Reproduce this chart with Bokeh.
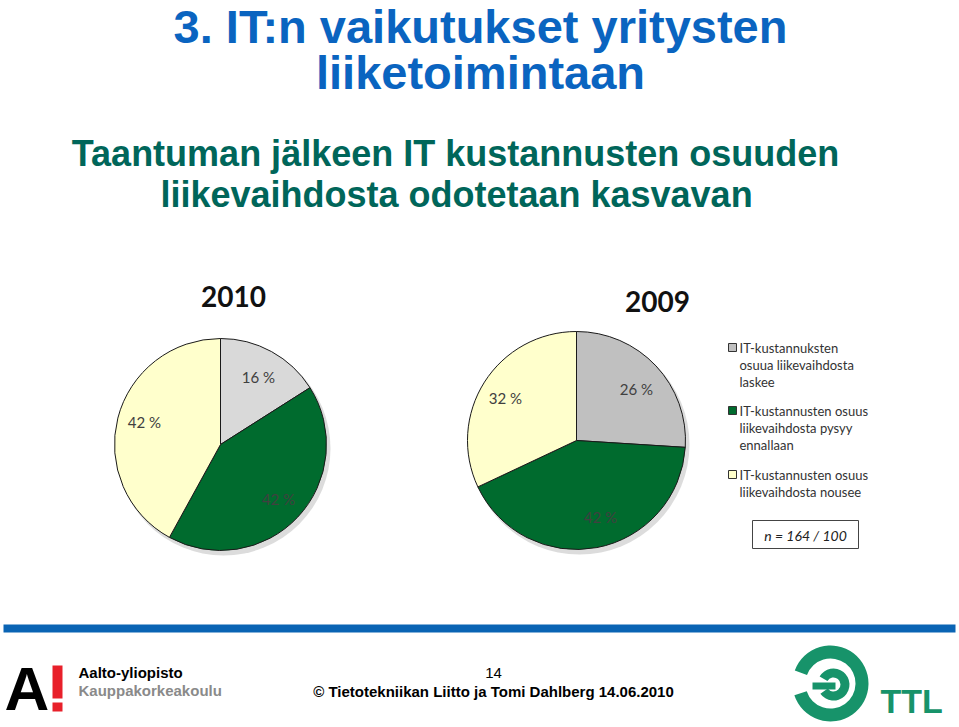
from bokeh.plotting import figure
from bokeh.models import Range1d, ColumnDataSource
from bokeh.core.properties import value
from bokeh.embed import file_html
from bokeh.resources import INLINE
import math

# ---- data ----
categories = ["IT-kustannuksten osuua liikevaihdosta laskee",
              "IT-kustannusten osuus liikevaihdosta pysyy ennallaan",
              "IT-kustannusten osuus liikevaihdosta nousee"]
years = ["2010", "2009"]
values_2010 = [16, 42, 42]
values_2009 = [26, 42, 32]
colors_2010 = ["#d9d9d9", "#006b2e", "#ffffcc"]
colors_2009 = ["#c0c0c0", "#006b2e", "#ffffcc"]
legend_lines = [["IT-kustannuksten", "osuua liikevaihdosta", "laskee"],
                ["IT-kustannusten osuus", "liikevaihdosta pysyy", "ennallaan"],
                ["IT-kustannusten osuus", "liikevaihdosta nousee"]]
sample_note = "n = 164 / 100"

W, H = 959, 727
def Y(py):
    return H - py

p = figure(width=W, height=H, x_range=Range1d(0, W), y_range=Range1d(0, H),
           output_backend="svg", toolbar_location=None, min_border=0)
p.axis.visible = False
p.grid.visible = False
p.outline_line_color = None
p.background_fill_color = "white"
p.border_fill_color = "white"

SANS = "Liberation Sans"
CAL = "Lato"

# ---- titles ----
p.text(x=[480], y=[Y(26)], text=["3. IT:n vaikutukset yritysten"], text_font=value(SANS),
       text_font_style="bold", text_font_size="47px", text_color="#0a64c0",
       text_align="center", text_baseline="middle")
p.text(x=[480], y=[Y(72)], text=["liiketoimintaan"], text_font=value(SANS),
       text_font_style="bold", text_font_size="47px", text_color="#0a64c0",
       text_align="center", text_baseline="middle")
p.text(x=[455], y=[Y(153)], text=["Taantuman jälkeen IT kustannusten osuuden"], text_font=value(SANS),
       text_font_style="bold", text_font_size="36px", text_color="#00665a",
       text_align="center", text_baseline="middle")
p.text(x=[456], y=[Y(194)], text=["liikevaihdosta odotetaan kasvavan"], text_font=value(SANS),
       text_font_style="bold", text_font_size="36px", text_color="#00665a",
       text_align="center", text_baseline="middle")

# ---- pies ----
def pie(cx, cy, r, vals, cols, label_pos, year, year_pos):
    total = float(sum(vals))
    starts, ends = [], []
    c = 0.0
    for v in vals:
        starts.append(math.pi / 2 - 2 * math.pi * c / total)
        c += v
        ends.append(math.pi / 2 - 2 * math.pi * c / total)
    # shadow
    p.circle(x=[cx + 3], y=[Y(cy) - 4], radius=r + 1, fill_color="#9a9a9a",
             fill_alpha=0.35, line_color=None)
    src = ColumnDataSource(dict(x=[cx] * len(vals), y=[Y(cy)] * len(vals),
                                s=starts, e=ends, c=cols))
    p.wedge(x="x", y="y", radius=r, start_angle="s", end_angle="e", direction="clock",
            fill_color="c", line_color="#1a1a1a", line_width=1, source=src)
    for v, (lx, ly) in zip(vals, label_pos):
        p.text(x=[lx], y=[Y(ly)], text=[f"{v} %"], text_font=value(CAL),
               text_font_size="15px", text_color="#404040",
               text_align="center", text_baseline="middle")
    p.text(x=[year_pos[0]], y=[Y(year_pos[1])], text=[year], text_font=value(CAL),
           text_font_style="bold", text_font_size="28px", text_color="#111111",
           text_align="center", text_baseline="middle")

pie(220, 444, 106, values_2010, colors_2010,
    [(258, 376), (278, 498), (144, 421)], years[0], (233, 296))
pie(576, 440, 109, values_2009, colors_2009,
    [(636, 388), (600, 516), (505, 397)], years[1], (657, 301))

# ---- legend ----
leg_y = [347, 410, 474]
for i, lines in enumerate(legend_lines):
    p.rect(x=[732], y=[Y(leg_y[i])], width=8, height=8, fill_color=colors_2009[i],
           line_color="#333333", line_width=1)
    for j, t in enumerate(lines):
        p.text(x=[739], y=[Y(leg_y[i] + j * 17.3)], text=[t], text_font=value(CAL),
               text_font_size="13px", text_color="#333333",
               text_align="left", text_baseline="middle")
p.quad(left=[752], right=[858], top=[Y(520)], bottom=[Y(548)], fill_color="white",
       line_color="#444444", line_width=1)
p.text(x=[805], y=[Y(535)], text=[sample_note], text_font=value(CAL),
       text_font_style="italic", text_font_size="14px", text_color="#222222",
       text_align="center", text_baseline="middle")

# ---- footer ----
p.quad(left=[3], right=[955], top=[Y(624)], bottom=[Y(632)], fill_color="#0a64b4", line_color=None)
p.text(x=[4], y=[Y(688)], text=["A"], text_font=value(SANS), text_font_style="bold",
       text_font_size="62px", text_color="black", text_align="left", text_baseline="middle")
p.quad(left=[52], right=[62], top=[Y(665)], bottom=[Y(698)], fill_color="#e8202a", line_color=None)
p.quad(left=[52], right=[62], top=[Y(702)], bottom=[Y(711)], fill_color="#e8202a", line_color=None)
p.text(x=[78], y=[Y(672)], text=["Aalto-yliopisto"], text_font=value(SANS), text_font_style="bold",
       text_font_size="15px", text_color="black", text_align="left", text_baseline="middle")
p.text(x=[78], y=[Y(690)], text=["Kauppakorkeakoulu"], text_font=value(SANS), text_font_style="bold",
       text_font_size="15px", text_color="#8a8a8a", text_align="left", text_baseline="middle")
p.text(x=[493], y=[Y(672)], text=["14"], text_font=value(SANS),
       text_font_size="15px", text_color="black", text_align="center", text_baseline="middle")
p.text(x=[493], y=[Y(691)], text=["© Tietotekniikan Liitto ja Tomi Dahlberg 14.06.2010"],
       text_font=value(SANS), text_font_style="bold",
       text_font_size="15px", text_color="black", text_align="center", text_baseline="middle")

# TTL logo
g = "#17936a"
p.annular_wedge(x=[830], y=[Y(683)], inner_radius=25, outer_radius=38,
                start_angle=math.radians(198), end_angle=math.radians(160), direction="anticlock",
                fill_color=g, line_color=None)
p.annular_wedge(x=[833], y=[Y(684)], inner_radius=7, outer_radius=16,
                start_angle=math.radians(215), end_angle=math.radians(150), direction="anticlock",
                fill_color=g, line_color=None)
p.quad(left=[812], right=[835], top=[Y(682)], bottom=[Y(689)], fill_color=g, line_color=None)
p.text(x=[880], y=[Y(700)], text=["TTL"], text_font=value(SANS), text_font_style="bold",
       text_font_size="34px", text_color=g, text_align="left", text_baseline="middle")

open("out.html", "w").write(file_html(p, INLINE))
